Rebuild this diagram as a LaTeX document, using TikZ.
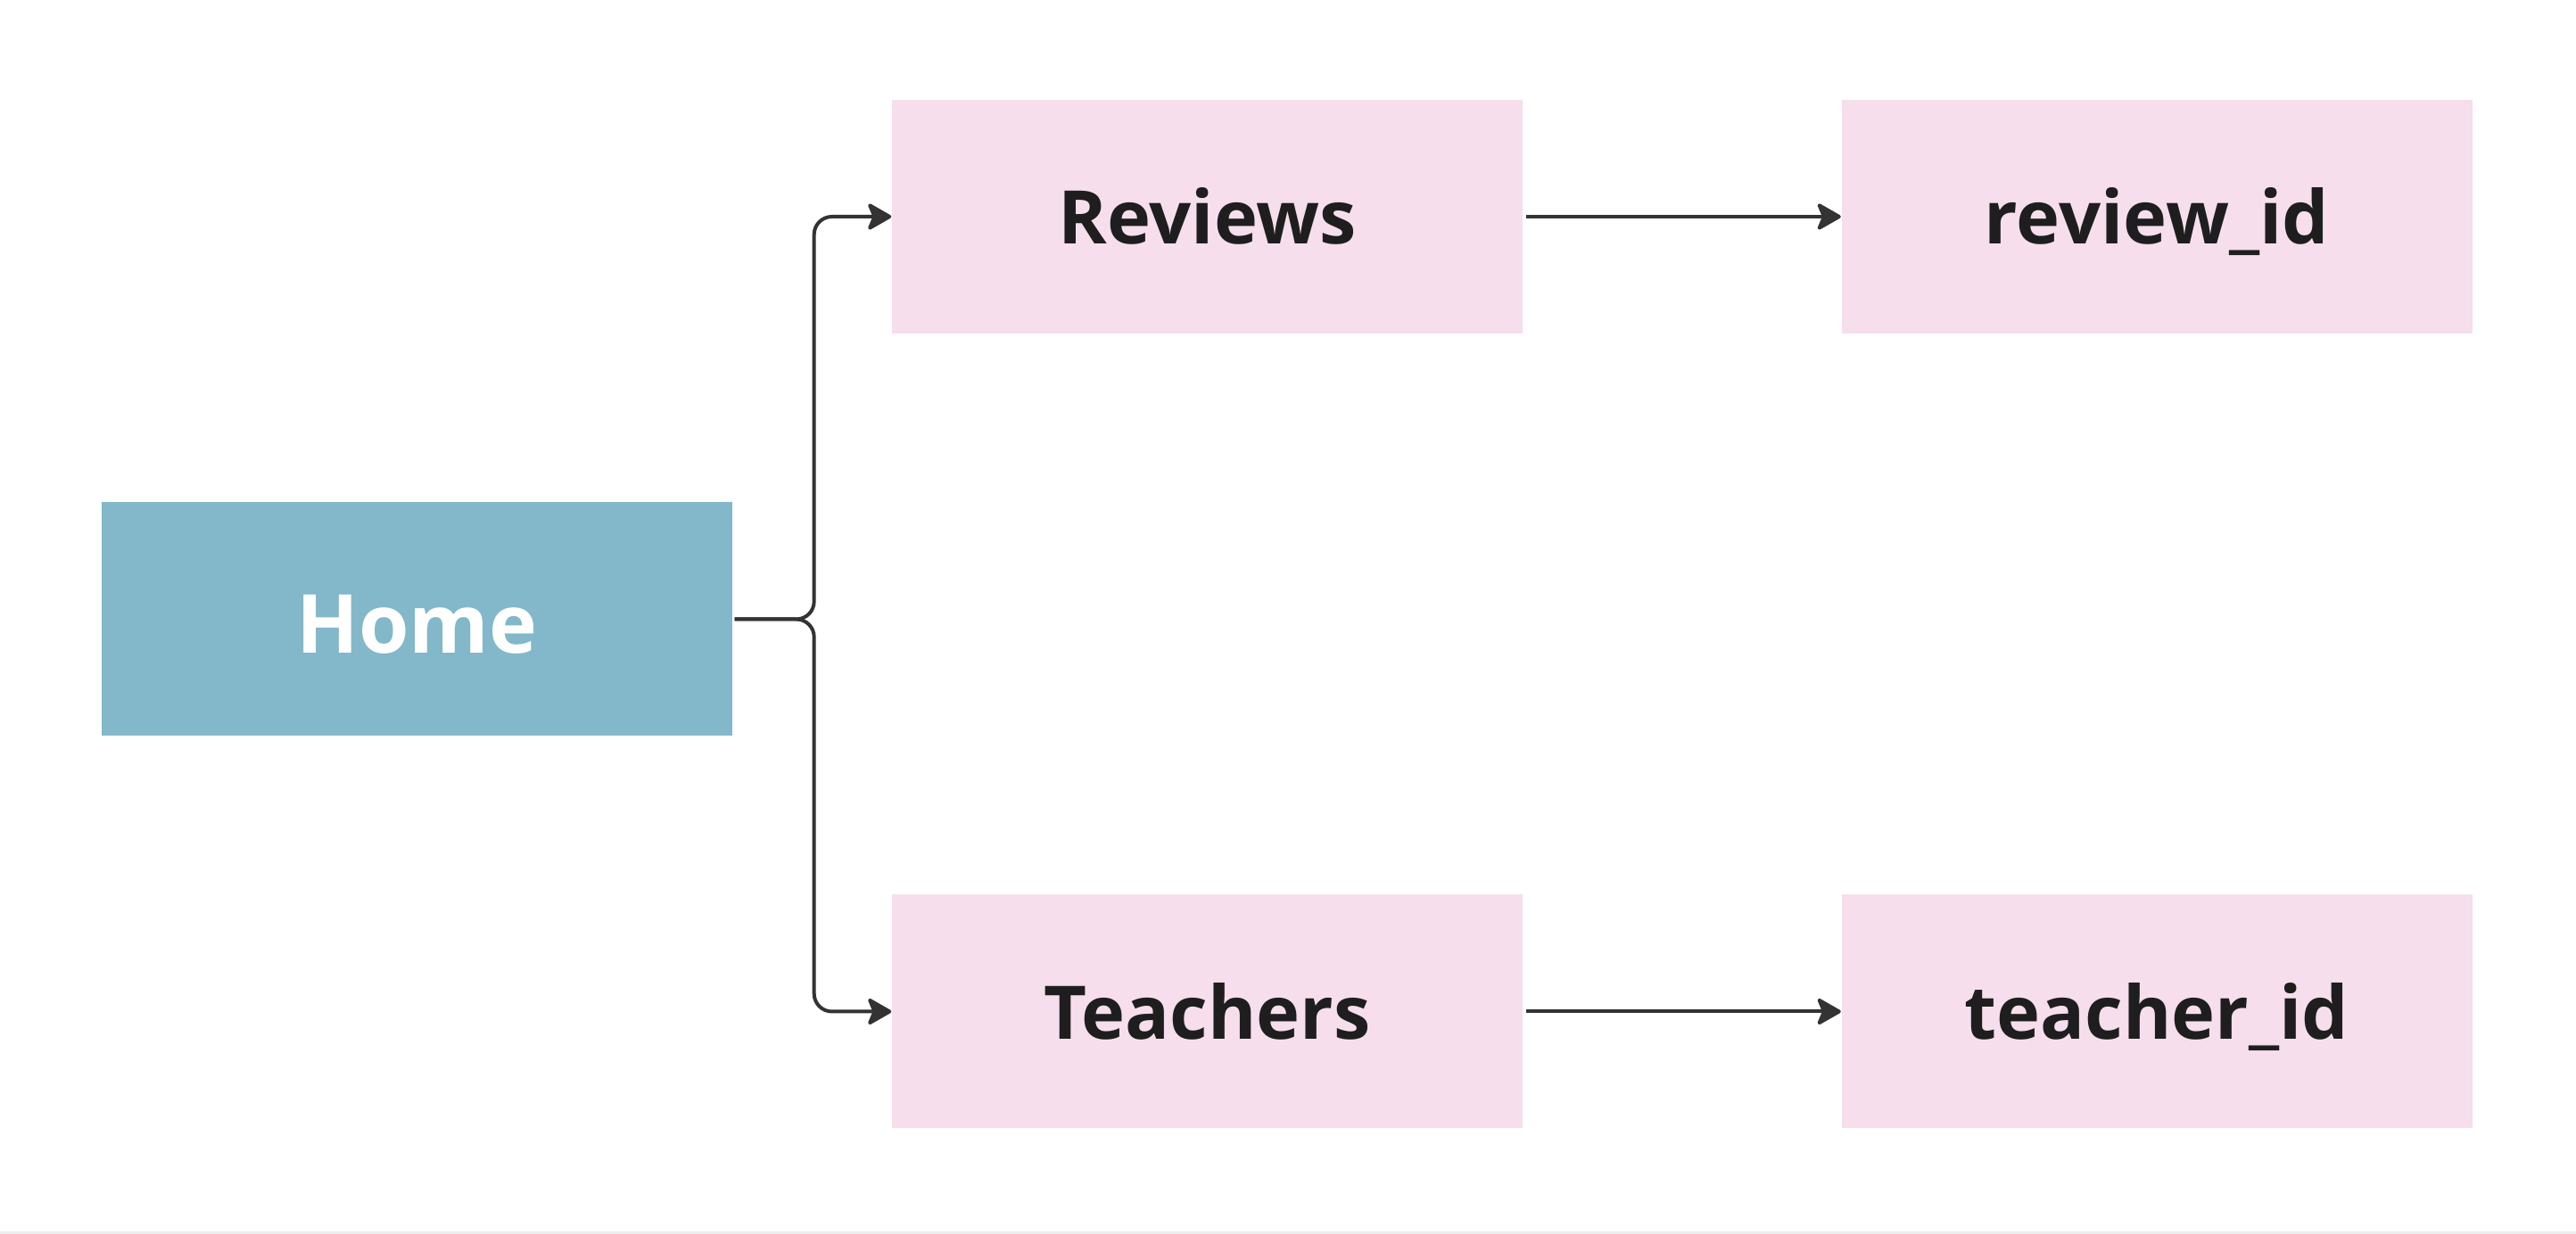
\documentclass[tikz,border=0pt]{standalone}
\usepackage{fontspec}
\setmainfont{Open Sans}
\usetikzlibrary{arrows.meta}
\definecolor{homeblue}{HTML}{82B8C9}
\definecolor{pagepink}{HTML}{F6DEEC}
\definecolor{inkdark}{HTML}{1E1E1E}
\definecolor{linkgray}{HTML}{333333}
\begin{document}
\begin{tikzpicture}
  \tikzset{
    page/.style={fill=pagepink, minimum width=7.07cm, minimum height=2.62cm,
      inner sep=0pt, text height=0.62cm, text depth=0pt, text=inkdark,
      font=\fontsize{23.6}{28}\selectfont\bfseries},
    root/.style={page, fill=homeblue, text=white, text height=0.77cm,
      font=\fontsize{26}{31}\selectfont\bfseries},
    link/.style={draw=linkgray, line width=0.04cm,
      -{Stealth[length=0.3cm,width=0.34cm,inset=0.07cm,round]}}
  }
  \useasboundingbox (0,0) rectangle (28.88,-13.84);
  \fill[black!7] (0,-13.81) rectangle (28.88,-13.84);

  \node[root] (home) at (4.675,-6.945) {Home};
  \node[page] (reviews) at (13.535,-2.43) {Reviews};
  \node[page] (reviewid) at (24.18,-2.43) {review\_id};
  \node[page] (teachers) at (13.535,-11.345) {Teachers};
  \node[page] (teacherid) at (24.18,-11.345) {teacher\_id};

  \coordinate (fork) at ([xshift=0.91cm]home.east);

  \draw[link, rounded corners=0.2cm] ([xshift=0.02cm]home.east) -- (fork) |- (reviews.west);
  \draw[link, rounded corners=0.2cm] ([xshift=0.02cm]home.east) -- (fork) |- (teachers.west);
  \draw[link] ([xshift=0.03cm]reviews.east) -- (reviewid.west);
  \draw[link] ([xshift=0.03cm]teachers.east) -- (teacherid.west);

\end{tikzpicture}
\end{document}
